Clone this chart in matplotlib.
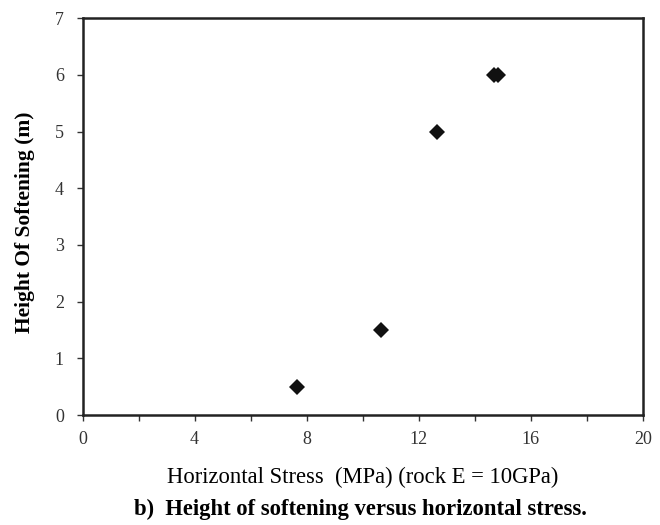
import matplotlib
matplotlib.use("Agg")
import matplotlib.pyplot as plt

# data
stress = [7.64, 10.64, 12.64, 14.7, 14.84]
height = [0.5, 1.5, 5.0, 6.0, 6.0]
xticks = [0, 2, 4, 6, 8, 10, 12, 14, 16, 18, 20]
xticklabels = ['0', '', '4', '', '8', '', '12', '', '16', '', '20']
yticks = [0, 1, 2, 3, 4, 5, 6, 7]

plt.rcParams['font.family'] = ['Liberation Serif', 'DejaVu Serif']

fig = plt.figure(figsize=(6.6, 5.25), dpi=100)
ax = fig.add_axes([0.125, 0.2095, 0.849, 0.756])

ax.plot(stress, height, 'D', color='#111111', markersize=8.5, markeredgewidth=0)

ax.set_xlim(0, 20)
ax.set_ylim(0, 7)
ax.set_xticks(xticks)
ax.set_xticklabels(xticklabels)
ax.set_yticks(yticks)
ax.tick_params(direction='out', length=4, width=1, color='#333333',
               labelsize=13, labelcolor='#333333')
ax.tick_params(axis='x', pad=7.5)
ax.tick_params(axis='y', pad=9.5)

for s in ax.spines.values():
    s.set_linewidth(1.8)
    s.set_color('#222222')

# axis titles and caption
fig.text(25 / 660, 1 - 222 / 525, 'Height Of Softening (m)', rotation=90,
         ha='center', va='center', fontsize=15.5, fontweight='bold')
fig.text(363 / 660, 1 - 477 / 525, 'Horizontal Stress  (MPa) (rock E = 10GPa)',
         ha='center', va='center', fontsize=16.3)
fig.text(360 / 660, 1 - 509 / 525, 'b)  Height of softening versus horizontal stress.',
         ha='center', va='center', fontsize=16.3, fontweight='bold')

fig.savefig('out.png', dpi=100)
